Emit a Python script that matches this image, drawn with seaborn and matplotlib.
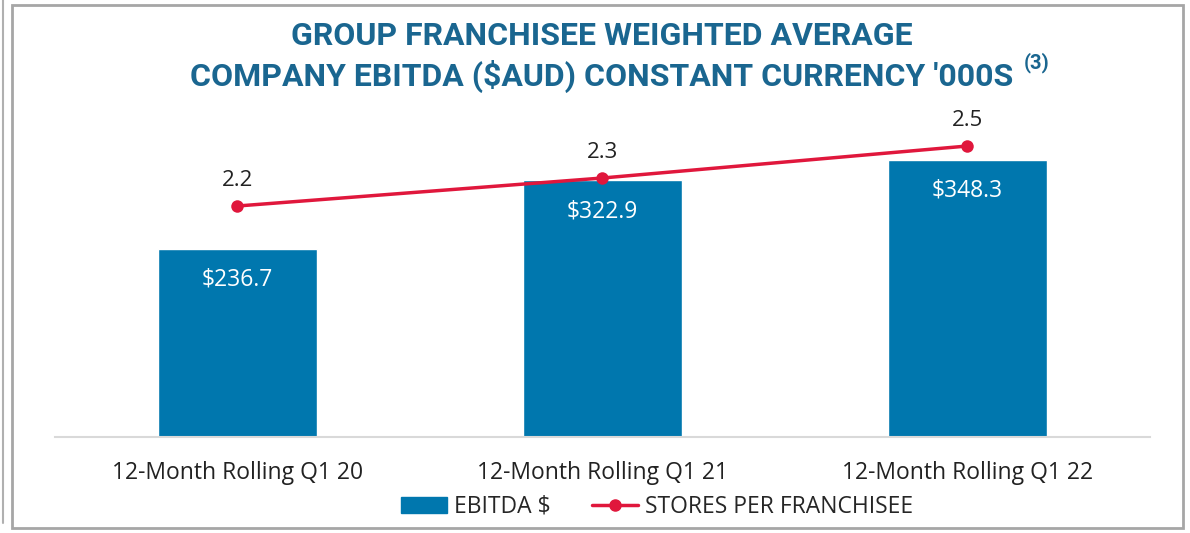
import pandas as pd
import matplotlib.pyplot as plt
import seaborn as sns
from matplotlib.lines import Line2D
from matplotlib.patches import Patch, Rectangle

periods = ["12-Month Rolling Q1 20", "12-Month Rolling Q1 21", "12-Month Rolling Q1 22"]
ebitda = [236.7, 322.9, 348.3]
stores_per_franchisee = [2.2, 2.34, 2.5]

bar_color = "#0077AE"
line_color = "#E0173C"
title_color = "#1A6690"

data = pd.DataFrame({"period": periods, "ebitda": ebitda, "stores": stores_per_franchisee})

sns.set_style("white")
plt.rcParams["font.family"] = ["Open Sans", "DejaVu Sans"]

fig = plt.figure(figsize=(11.9, 5.33), dpi=100)
ax = fig.add_axes([55 / 1190, 1 - 437 / 533, 1095 / 1190, 327 / 533])

sns.barplot(data=data, x="period", y="ebitda", color=bar_color, width=0.433, ax=ax, saturation=1)
ax.set_ylim(0, 411)
ax.set_xlim(-0.5, 2.5)
for i, v in enumerate(ebitda):
    ax.text(i, v - 39, f"${v:.1f}", ha="center", va="center", color="white", fontsize=16.5)

ax2 = ax.twinx()
sns.lineplot(data=data, x="period", y="stores", color=line_color, marker="o", markersize=9,
             markeredgewidth=0, linewidth=2.5, ax=ax2)
ax2.set_ylim(1.045, 2.68)
for i, v in enumerate(stores_per_franchisee):
    ax2.text(i, v + 0.125, f"{v:.1f}", ha="center", va="center", color="#222222", fontsize=16)

for a in (ax, ax2):
    a.set_xlabel("")
    a.set_ylabel("")
    a.set_yticks([])
    for s in a.spines.values():
        s.set_visible(False)
ax.spines["bottom"].set_visible(True)
ax.spines["bottom"].set_color("#d9d9d9")
ax.spines["bottom"].set_linewidth(1.5)
ax.tick_params(axis="x", length=0, pad=17, labelsize=16.5, labelcolor="#222222")

handles = [Patch(color=bar_color),
           Line2D([], [], color=line_color, marker="o", markersize=8, linewidth=2.5)]
fig.legend(handles, ["EBITDA $", "STORES PER FRANCHISEE"], loc="center",
           bbox_to_anchor=(657 / 1190, 1 - 507 / 533), ncol=2, frameon=False,
           fontsize=16.5, handlelength=2.0, columnspacing=1.8, handletextpad=0.3)

title_font = ["Roboto", "DejaVu Sans"]
fig.text(602 / 1190, 1 - 36 / 533, "GROUP FRANCHISEE WEIGHTED AVERAGE", ha="center", va="center",
         color=title_color, fontsize=23, fontweight="bold", family=title_font)
fig.text(602 / 1190, 1 - 76 / 533, "COMPANY EBITDA ($AUD) CONSTANT CURRENCY '000S", ha="center",
         va="center", color=title_color, fontsize=23, fontweight="bold", family=title_font)
fig.text(1037 / 1190, 1 - 63 / 533, "(3)", ha="center", va="center", color=title_color,
         fontsize=14.5, fontweight="bold", family=title_font)

fig.patches.append(Rectangle((12 / 1190, 5 / 533), 1171 / 1190, 523 / 533, transform=fig.transFigure,
                             fill=False, edgecolor="#a6a6a6", linewidth=2))
fig.lines.append(Line2D([3 / 1190, 3 / 1190], [10 / 533, 1], transform=fig.transFigure,
                        color="#b0b0b0", linewidth=1.5))

fig.savefig("out.png", dpi=100)
